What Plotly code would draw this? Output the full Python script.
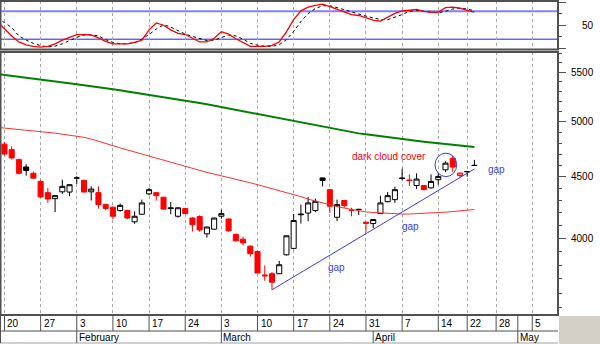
import math
import pandas as pd
import plotly.graph_objects as go

W, H = 600, 344

# ---------------- data ----------------
holidays = ["2003-04-18", "2003-04-21"]
dates = [d.strftime("%Y-%m-%d") for d in pd.bdate_range("2003-01-17", "2003-05-08")
         if d.strftime("%Y-%m-%d") not in holidays]
candle_dates = dates[1:67]          # 2003-01-20 .. 2003-04-23

opens = [4790, 4740, 4650, 4585, 4530, 4460, 4365, 4315, 4372, 4370,
         4488, 4470, 4372, 4365, 4268, 4245, 4218, 4218, 4128, 4188,
         4355, 4365, 4327, 4240, 4172, 4235, 4158, 4170, 4034, 4070,
         4172, 4150, 4030, 3993, 3940, 3900, 3728, 3737, 3737, 3875,
         3923, 4190, 4198, 4218, 4490, 4390, 4164, 4300, 4222, 4228,
         4125, 4114, 4193, 4290, 4307, 4490, 4472, 4425, 4425, 4405,
         4475, 4560, 4663, 4510, 4545, 4600]
highs = [4810, 4770, 4660, 4610, 4545, 4470, 4405, 4345, 4475, 4435,
         4505, 4472, 4418, 4418, 4270, 4250, 4275, 4225, 4212, 4307,
         4405, 4368, 4330, 4288, 4245, 4238, 4165, 4180, 4090, 4160,
         4226, 4155, 4035, 4012, 3945, 3905, 3797, 3750, 3830, 4020,
         4190, 4266, 4330, 4315, 4492, 4395, 4307, 4305, 4240, 4232,
         4128, 4150, 4340, 4370, 4415, 4570, 4520, 4530, 4430, 4520,
         4532, 4635, 4684, 4535, 4546, 4648]
lows = [4690, 4650, 4520, 4510, 4485, 4320, 4280, 4205, 4355, 4335,
        4438, 4368, 4300, 4234, 4220, 4146, 4208, 4150, 4112, 4185,
        4343, 4300, 4225, 4188, 4160, 4190, 4052, 4050, 4005, 4065,
        4153, 4050, 3975, 3945, 3862, 3740, 3687, 3624, 3735, 3870,
        3915, 4114, 4133, 4205, 4418, 4198, 4133, 4240, 4172, 4182,
        4046, 4078, 4190, 4285, 4280, 4470, 4420, 4395, 4388, 4400,
        4432, 4540, 4543, 4488, 4500, 4597]
closes = [4700, 4665, 4530, 4555, 4488, 4330, 4312, 4340, 4418, 4432,
          4490, 4370, 4395, 4266, 4235, 4172, 4260, 4158, 4172, 4280,
          4390, 4340, 4230, 4234, 4240, 4193, 4106, 4064, 4087, 4158,
          4193, 4057, 3980, 3965, 3883, 3742, 3722, 3677, 3802, 4019,
          4138, 4185, 4280, 4293, 4468, 4253, 4266, 4258, 4218, 4226,
          4116, 4146, 4280, 4340, 4390, 4485, 4468, 4480, 4390, 4460,
          4503, 4619, 4584, 4532, 4544, 4598]

# moving averages (from 2003-01-17)
ma_red = [4947, 4941, 4935, 4928, 4921, 4914, 4907, 4899, 4892, 4884, 4875,
          4867, 4853, 4837, 4815, 4795, 4774, 4756, 4737, 4718, 4700,
          4680, 4661, 4642, 4624, 4606, 4588, 4570, 4552, 4538, 4523,
          4509, 4494, 4478, 4463, 4448, 4432, 4416, 4398, 4382, 4365,
          4349, 4332, 4311, 4295, 4279, 4262, 4250, 4238, 4226, 4215,
          4207, 4202, 4198, 4194, 4192, 4190, 4190, 4192, 4194, 4197,
          4200, 4205, 4210, 4215, 4220, 4226]
ma_green = [5478, 5469, 5460, 5450, 5441, 5431, 5421, 5412, 5402, 5392, 5383,
            5373, 5363, 5354, 5344, 5334, 5322, 5311, 5299, 5288, 5276,
            5264, 5253, 5241, 5229, 5218, 5206, 5195, 5183, 5170, 5156,
            5143, 5130, 5116, 5103, 5089, 5076, 5062, 5049, 5036, 5022,
            5009, 4995, 4981, 4968, 4954, 4940, 4927, 4913, 4900, 4890,
            4881, 4872, 4862, 4853, 4843, 4834, 4827, 4820, 4813, 4806,
            4799, 4792, 4785, 4778, 4771, 4764]

# stochastic oscillator (from 2003-01-17)
stoch_k = [58, 42, 27, 14, 8, 4.5, 3, 4.5, 10, 18, 24,
           30, 30, 29, 23, 15.5, 10, 10, 10, 13, 18,
           40, 55, 50, 40, 32.7, 30, 22, 14, 14, 22,
           36, 31, 21, 12, 4.4, 4.4, 4.4, 6.7, 14, 35.6,
           62, 81, 89, 93, 95.5, 90, 84, 78, 73, 71,
           66.7, 61, 59, 67, 75.5, 80.7, 83, 84, 80, 78,
           77.8, 88, 89, 86.7, 82, 78]
stoch_d = [64, 56, 45, 27, 18, 11, 6, 3.5, 5, 10, 17,
           24, 29, 29.5, 27, 19, 13, 10, 10.5, 12, 20,
           30, 42, 51, 46, 38, 31, 26, 21, 17, 18,
           24, 29, 27, 20, 11, 7, 5, 4.4, 8, 19,
           37, 58, 75, 86, 92, 92, 88, 83, 78, 73,
           69.5, 66, 62.5, 62, 67, 73, 80, 82, 80, 79,
           77, 80, 85, 87, 85, 81]
stoch_levels = [20, 80]

trend_dates = ["2003-03-12", "2003-04-23"]
trend_vals = [3624, 4568]

week_starts = ["2003-01-20", "2003-01-27", "2003-02-03", "2003-02-10", "2003-02-17",
               "2003-02-24", "2003-03-03", "2003-03-10", "2003-03-17", "2003-03-24",
               "2003-03-31", "2003-04-07", "2003-04-14", "2003-04-22", "2003-04-28",
               "2003-05-05"]
week_labels = ["20", "27", "3", "10", "17", "24", "3", "10", "17", "24",
               "31", "7", "14", "22", "28", "5"]
month_starts = ["2003-02-03", "2003-03-03", "2003-04-01", "2003-05-01"]
month_labels = ["February", "March", "April", "May"]

price_ticks = [4000, 4500, 5000, 5500]
price_minor = list(range(3500, 5800, 100))
stoch_ticks = [0, 50, 100]
stoch_minor = [25, 75]
stoch_labels = [50]

# ---------------- helpers ----------------
def py(p):
    return 1 - p / H

def pxf(p):
    return p / W

FONT = "Liberation Sans, Arial, sans-serif"
AX = "#505050"

fig = go.Figure()

# candles, split by style (fill: close<open ; colour: close<previous close)
styles = {
    (True, False): ("#000000", "#ffffff"),
    (True, True): ("#ff0000", "#ffffff"),
    (False, False): ("#000000", "#000000"),
    (False, True): ("#ff0000", "#ff0000"),
}
groups = {k: [] for k in styles}
for i in range(len(opens)):
    up = closes[i] > opens[i]
    prev = closes[i - 1] if i else opens[i]
    red = closes[i] < prev
    groups[(up, red)].append(i)

for key, idx in groups.items():
    if not idx:
        continue
    lc, fc = styles[key]
    st = dict(line=dict(color=lc, width=1), fillcolor=fc)
    fig.add_trace(go.Candlestick(
        x=[candle_dates[i] for i in idx],
        open=[opens[i] for i in idx], high=[highs[i] for i in idx],
        low=[lows[i] for i in idx], close=[closes[i] for i in idx],
        increasing=st, decreasing=st, whiskerwidth=0,
        showlegend=False, hoverinfo="skip", xaxis="x", yaxis="y"))

ma_dates = dates[:len(ma_red)]
fig.add_trace(go.Scatter(x=ma_dates, y=ma_red, mode="lines",
                         line=dict(color="#ff3030", width=1), hoverinfo="skip",
                         showlegend=False, xaxis="x", yaxis="y"))
fig.add_trace(go.Scatter(x=ma_dates, y=ma_green, mode="lines",
                         line=dict(color="#008000", width=2), hoverinfo="skip",
                         showlegend=False, xaxis="x", yaxis="y"))
fig.add_trace(go.Scatter(x=trend_dates, y=trend_vals, mode="lines",
                         line=dict(color="#3a3aff", width=1), hoverinfo="skip",
                         showlegend=False, xaxis="x", yaxis="y"))

st_dates = dates[:len(stoch_k)]
fig.add_trace(go.Scatter(x=st_dates, y=stoch_d, mode="lines",
                         line=dict(color="#000000", width=1, dash="3px,3px"),
                         hoverinfo="skip", showlegend=False, xaxis="x", yaxis="y2"))
fig.add_trace(go.Scatter(x=st_dates, y=stoch_k, mode="lines",
                         line=dict(color="#ff0000", width=1.3), hoverinfo="skip",
                         showlegend=False, xaxis="x", yaxis="y2"))

shapes = []
# stochastic reference levels
for lv, col, wd in zip(stoch_levels, ["#2020e0", "#8080ff"], [1, 2]):
    shapes.append(dict(type="line", xref="paper", yref="y2", x0=pxf(1), x1=pxf(558),
                       y0=lv, y1=lv, line=dict(color=col, width=wd), layer="below"))
# circle around dark cloud cover
shapes.append(dict(type="circle", xref="x", yref="y", x0=60.55, x1=63.55,
                   y0=4501, y1=4708, line=dict(color="#3a3aff", width=1)))

# panel borders
for (t, b) in [(1, 49.5), (52, 315)]:
    shapes.append(dict(type="rect", xref="paper", yref="paper", x0=pxf(0.5), x1=pxf(558),
                       y0=py(b), y1=py(t), line=dict(color=AX, width=2)))
# right gray corner
shapes.append(dict(type="rect", xref="paper", yref="paper", x0=pxf(559), x1=1,
                   y0=0, y1=py(316), fillcolor="#d4d0c8", line=dict(width=0), layer="below"))
# date label rows
shapes.append(dict(type="line", xref="paper", yref="paper", x0=0, x1=pxf(558),
                   y0=py(331), y1=py(331), line=dict(color=AX, width=1)))
shapes.append(dict(type="line", xref="paper", yref="paper", x0=0, x1=pxf(558),
                   y0=py(343), y1=py(343), line=dict(color="#a0a0a0", width=1)))
shapes.append(dict(type="line", xref="paper", yref="paper", x0=pxf(0.5), x1=pxf(0.5),
                   y0=py(343), y1=py(316), line=dict(color=AX, width=1)))
for d in week_starts + ["2003-05-01"]:
    shapes.append(dict(type="line", xref="x", yref="paper", x0=d, x1=d,
                       y0=py(331), y1=py(316), line=dict(color=AX, width=1)))
for d in month_starts:
    shapes.append(dict(type="line", xref="x", yref="paper", x0=d, x1=d,
                       y0=py(343), y1=py(331), line=dict(color=AX, width=1)))

ann = []
for d, t in zip(week_starts, week_labels):
    ann.append(dict(x=d, xref="x", y=py(323.5), yref="paper", text=t, showarrow=False,
                    xanchor="left", yanchor="middle", xshift=1,
                    font=dict(family=FONT, size=10, color="#000")))
for d, t in zip(month_starts, month_labels):
    ann.append(dict(x=d, xref="x", y=py(337), yref="paper", text=t, showarrow=False,
                    xanchor="left", yanchor="middle", xshift=0,
                    font=dict(family=FONT, size=10, color="#000")))
for v in price_ticks:
    ann.append(dict(x=pxf(596), xref="paper", y=math.log10(v), yref="y", text=str(v),
                    showarrow=False, xanchor="right", yanchor="middle",
                    font=dict(family=FONT, size=10, color="#000")))
for v in stoch_labels:
    ann.append(dict(x=pxf(596), xref="paper", y=v, yref="y2", text=str(v),
                    showarrow=False, xanchor="right", yanchor="middle",
                    font=dict(family=FONT, size=10, color="#000")))

# chart notes
ann.append(dict(x=candle_dates[48], xref="x", y=math.log10(4680), yref="y",
                text="dark cloud cover", showarrow=False, xanchor="left", yanchor="middle",
                xshift=-2, font=dict(family=FONT, size=10, color="#ff0000")))
for d, v, sh in [(candle_dates[45], 3780, -4), (candle_dates[55], 4090, -2),
                 ("2003-04-25", 4560, -3)]:
    ann.append(dict(x=d, xref="x", y=math.log10(v), yref="y", text="gap",
                    showarrow=False, xanchor="left", yanchor="middle", xshift=sh,
                    font=dict(family=FONT, size=10, color="#3a3aff")))

fig.update_layout(
    width=W, height=H, margin=dict(l=0, r=0, t=0, b=0),
    paper_bgcolor="#ffffff", plot_bgcolor="#ffffff",
    showlegend=False, boxgap=0.3, boxgroupgap=0, boxmode="overlay",
    xaxis=dict(type="category", categoryorder="array", categoryarray=dates,
               range=[0.52, 77.56], domain=[pxf(1), pxf(558)], anchor="y",
               showticklabels=False, ticks="", tickvals=week_starts,
               showgrid=True, gridcolor="#a8a8a8", gridwidth=1, griddash="3px,3px",
               zeroline=False, showline=False, rangeslider=dict(visible=False),
               fixedrange=True),
    yaxis=dict(type="log", domain=[py(315), py(52)], range=[3.5382, 3.7570],
               side="right", anchor="x", showgrid=False, zeroline=False,
               tickmode="array", tickvals=price_ticks, showticklabels=False,
               ticks="outside", ticklen=7, tickwidth=1, tickcolor=AX,
               minor=dict(tickvals=price_minor, ticks="outside", ticklen=3,
                          tickwidth=1, tickcolor=AX, showgrid=False),
               showline=False, fixedrange=True),
    yaxis2=dict(domain=[py(49.5), py(1)], range=[-2.2, 102.2],
                side="right", anchor="x", showgrid=False, zeroline=False,
                tickmode="array", tickvals=stoch_ticks, showticklabels=False,
                ticks="outside", ticklen=7, tickwidth=1, tickcolor=AX,
                minor=dict(tickvals=stoch_minor, ticks="outside", ticklen=3,
                           tickwidth=1, tickcolor=AX, showgrid=False),
                showline=False, fixedrange=True),
    shapes=shapes, annotations=ann,
)

fig.write_html("out.html")
